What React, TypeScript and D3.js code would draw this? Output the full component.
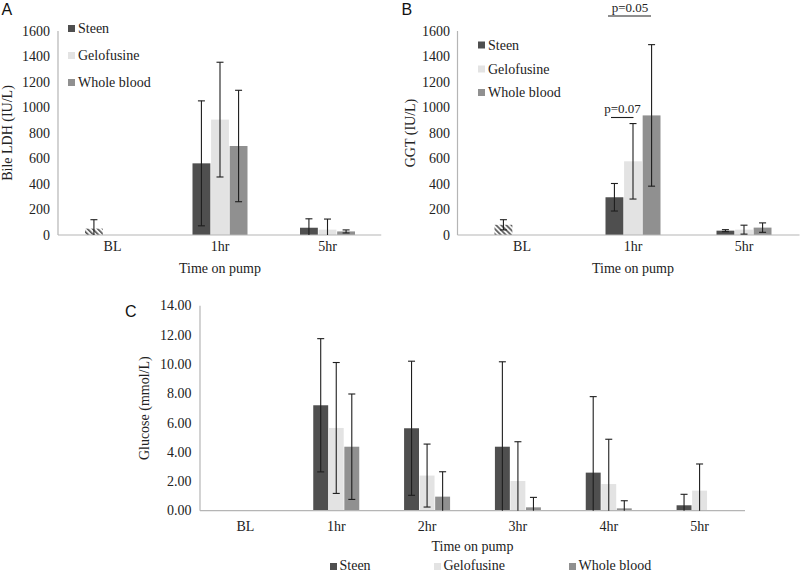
import React from "react";
import * as d3 from "d3";

// ---------- data ----------
const abCategories = ["BL", "1hr", "5hr"];
const cCategories = ["BL", "1hr", "2hr", "3hr", "4hr", "5hr"];
const seriesNames = ["Steen", "Gelofusine", "Whole blood"];

// Panel A: Bile LDH (IU/L)
const ldhBaseline = [50, null, null];
const ldhBaselineErr = [70, null, null];
const ldhSteen = [null, 562, 57];
const ldhSteenErr = [null, 490, 70];
const ldhGelo = [null, 905, 42];
const ldhGeloErr = [null, 450, 83];
const ldhWhole = [null, 698, 28];
const ldhWholeErr = [null, 437, 12];

// Panel B: GGT (IU/L)
const ggtBaseline = [80, null, null];
const ggtBaselineErr = [40, null, null];
const ggtSteen = [null, 296, 34];
const ggtSteenErr = [null, 108, 8];
const ggtGelo = [null, 578, 42];
const ggtGeloErr = [null, 296, 35];
const ggtWhole = [null, 938, 58];
const ggtWholeErr = [null, 555, 37];

// Panel C: Glucose (mmol/L)
const glucSteen = [0.03, 7.2, 5.63, 4.37, 2.6, 0.37];
const glucSteenErr = [0, 4.55, 4.58, 5.8, 5.19, 0.75];
const glucGelo = [0, 5.65, 2.4, 2.03, 1.82, 1.37];
const glucGeloErr = [0, 4.47, 2.15, 2.68, 3.06, 1.82];
const glucWhole = [0, 4.37, 0.96, 0.23, 0.16, 0.02];
const glucWholeErr = [0, 3.6, 1.7, 0.68, 0.52, 0];

const abTicks = [0, 200, 400, 600, 800, 1000, 1200, 1400, 1600];
const cTicks = [0, 2, 4, 6, 8, 10, 12, 14];

const colors = ["#4f4f4f", "#e3e3e3", "#909090"];
const SERIF = "'Liberation Serif', 'Times New Roman', serif";
const SANS = "'Liberation Sans', Arial, sans-serif";
const AXIS = "#b5b5b5";
const ERR = "#1e1e1e";

type Num = number | null;

interface PanelProps {
  categories: string[];
  xRange: [number, number];
  axisLeft: number;
  yRange: [number, number];
  yDomain: [number, number];
  ticks: number[];
  tickFmt: (v: number) => string;
  tickX: number;
  groupWidth: number;
  baseline?: Num[];
  baselineErr?: Num[];
  series: Num[][];
  errs: Num[][];
  catLabelY: number;
  xTitleY: number;
  yTitle: string;
  yTitleX: number;
}

function ErrorBar({ cx, v, e, y }: { cx: number; v: number; e: number; y: d3.ScaleLinear<number, number> }) {
  if (!e) return null;
  const top = y(v + e);
  const lowVal = v - e;
  const bottom = y(Math.max(lowVal, 0));
  const cap = 3.5;
  return (
    <g stroke={ERR} strokeWidth={1.1}>
      <line x1={cx} x2={cx} y1={top} y2={bottom} />
      <line x1={cx - cap} x2={cx + cap} y1={top} y2={top} />
      {lowVal >= 0 && <line x1={cx - cap} x2={cx + cap} y1={bottom} y2={bottom} />}
    </g>
  );
}

function BarPanel(p: PanelProps) {
  const x = d3.scaleBand<string>().domain(p.categories).range(p.xRange);
  const y = d3.scaleLinear().domain(p.yDomain).range(p.yRange);
  const inner = d3
    .scaleBand<string>()
    .domain(seriesNames)
    .range([-p.groupWidth / 2, p.groupWidth / 2])
    .paddingInner(0.04);
  const bw = inner.bandwidth();
  const y0 = y(0);
  const midX = (p.xRange[0] + p.xRange[1]) / 2;
  const midY = (p.yRange[0] + p.yRange[1]) / 2;
  return (
    <g>
      {p.ticks.map((t) => (
        <text
          key={t}
          x={p.tickX}
          y={y(t)}
          dy="0.34em"
          textAnchor="end"
          fontFamily={SERIF}
          fontSize={14}
          fill="#222"
        >
          {p.tickFmt(t)}
        </text>
      ))}
      {p.series.map((vals, si) =>
        vals.map((v, ci) => {
          if (v === null) return null;
          const bx = (x(p.categories[ci]) as number) + x.bandwidth() / 2 + (inner(seriesNames[si]) as number);
          return (
            <rect key={`b${si}-${ci}`} x={bx} y={y(v)} width={bw} height={y0 - y(v)} fill={colors[si]} />
          );
        })
      )}
      {p.baseline &&
        p.baseline.map((v, ci) => {
          if (v === null) return null;
          const bx = (x(p.categories[ci]) as number) + x.bandwidth() / 2 + (inner(seriesNames[0]) as number);
          return (
            <rect key={`bl${ci}`} x={bx} y={y(v)} width={bw} height={y0 - y(v)} fill="url(#hatch)" />
          );
        })}
      <line x1={p.axisLeft} x2={p.xRange[1]} y1={y0} y2={y0} stroke={AXIS} strokeWidth={1.2} />
      <line x1={p.axisLeft} x2={p.axisLeft} y1={p.yRange[1]} y2={y0} stroke={AXIS} strokeWidth={1.2} />
      {p.series.map((vals, si) =>
        vals.map((v, ci) => {
          const e = p.errs[si][ci];
          if (v === null || e === null) return null;
          const cx = (x(p.categories[ci]) as number) + x.bandwidth() / 2 + (inner(seriesNames[si]) as number) + bw / 2;
          return <ErrorBar key={`e${si}-${ci}`} cx={cx} v={v} e={e} y={y} />;
        })
      )}
      {p.baseline &&
        p.baseline.map((v, ci) => {
          const e = p.baselineErr ? p.baselineErr[ci] : null;
          if (v === null || e === null) return null;
          const cx = (x(p.categories[ci]) as number) + x.bandwidth() / 2 + (inner(seriesNames[0]) as number) + bw / 2;
          return <ErrorBar key={`ble${ci}`} cx={cx} v={v} e={e} y={y} />;
        })}
      {p.categories.map((c) => (
        <text
          key={c}
          x={(x(c) as number) + x.bandwidth() / 2}
          y={p.catLabelY}
          textAnchor="middle"
          fontFamily={SERIF}
          fontSize={14}
          fill="#222"
        >
          {c}
        </text>
      ))}
      <text x={midX} y={p.xTitleY} textAnchor="middle" fontFamily={SERIF} fontSize={14} fill="#222">
        Time on pump
      </text>
      <text
        transform={`translate(${p.yTitleX},${midY}) rotate(-90)`}
        textAnchor="middle"
        fontFamily={SERIF}
        fontSize={14}
        fill="#222"
      >
        {p.yTitle}
      </text>
    </g>
  );
}

function VLegend({ x, ys }: { x: number; ys: number[] }) {
  return (
    <g>
      {seriesNames.map((n, i) => (
        <g key={n}>
          <rect x={x} y={ys[i] - 8} width={7} height={7} fill={colors[i]} />
          <text x={x + 10} y={ys[i]} fontFamily={SERIF} fontSize={14} fill="#222">
            {n}
          </text>
        </g>
      ))}
    </g>
  );
}

export default function App() {
  const intFmt = (v: number) => d3.format("d")(v);
  const decFmt = (v: number) => d3.format(".2f")(v);
  return (
    <svg
      width={800}
      height={573}
      style={{ position: "absolute", left: 0, top: 0, background: "#fff" }}
      xmlns="http://www.w3.org/2000/svg"
    >
      <defs>
        <pattern id="hatch" width={3.6} height={3.6} patternUnits="userSpaceOnUse" patternTransform="rotate(-45)">
          <rect width={3.6} height={3.6} fill="#f4f4f4" />
          <rect width={1.6} height={3.6} fill="#555" />
        </pattern>
      </defs>
      <rect width={800} height={573} fill="#fff" />

      {/* Panel A */}
      <text x={1.5} y={15} fontFamily={SANS} fontSize={16} fill="#111">
        A
      </text>
      <BarPanel
        categories={abCategories}
        xRange={[58.75, 381.25]}
        axisLeft={58}
        yRange={[235, 31]}
        yDomain={[0, 1600]}
        ticks={abTicks}
        tickFmt={intFmt}
        tickX={50}
        groupWidth={55}
        baseline={ldhBaseline}
        baselineErr={ldhBaselineErr}
        series={[ldhSteen, ldhGelo, ldhWhole]}
        errs={[ldhSteenErr, ldhGeloErr, ldhWholeErr]}
        catLabelY={251}
        xTitleY={273}
        yTitle="Bile LDH (IU/L)"
        yTitleX={12}
      />
      <VLegend x={68} ys={[33, 60, 87]} />

      {/* Panel B */}
      <text x={401.5} y={15} fontFamily={SANS} fontSize={16} fill="#111">
        B
      </text>
      <BarPanel
        categories={abCategories}
        xRange={[466.5, 799.5]}
        axisLeft={457.5}
        yRange={[235, 31]}
        yDomain={[0, 1600]}
        ticks={abTicks}
        tickFmt={intFmt}
        tickX={450}
        groupWidth={55}
        baseline={ggtBaseline}
        baselineErr={ggtBaselineErr}
        series={[ggtSteen, ggtGelo, ggtWhole]}
        errs={[ggtSteenErr, ggtGeloErr, ggtWholeErr]}
        catLabelY={251}
        xTitleY={273}
        yTitle="GGT (IU/L)"
        yTitleX={415}
      />
      <VLegend x={478} ys={[49.5, 73.5, 97]} />
      <text x={630} y={11.5} textAnchor="middle" fontFamily={SERIF} fontSize={13} fill="#222">
        p=0.05
      </text>
      <line x1={608} x2={651} y1={16} y2={16} stroke={ERR} strokeWidth={1.1} />
      <text x={622.5} y={113} textAnchor="middle" fontFamily={SERIF} fontSize={13} fill="#222">
        p=0.07
      </text>
      <line x1={611} x2={633.5} y1={117.5} y2={117.5} stroke={ERR} strokeWidth={1.1} />

      {/* Panel C */}
      <text x={125} y={316.5} fontFamily={SANS} fontSize={16} fill="#111">
        C
      </text>
      <BarPanel
        categories={cCategories}
        xRange={[200, 745]}
        axisLeft={200}
        yRange={[510.7, 305.7]}
        yDomain={[0, 14]}
        ticks={cTicks}
        tickFmt={decFmt}
        tickX={191.5}
        groupWidth={46}
        series={[glucSteen, glucGelo, glucWhole]}
        errs={[glucSteenErr, glucGeloErr, glucWholeErr]}
        catLabelY={531}
        xTitleY={551}
        yTitle="Glucose (mmol/L)"
        yTitleX={149}
      />
      {seriesNames.map((n, i) => {
        const lx = [330, 434, 569][i];
        return (
          <g key={n}>
            <rect x={lx} y={563} width={7} height={7} fill={colors[i]} />
            <text x={lx + 9.5} y={569.5} fontFamily={SERIF} fontSize={14} fill="#222">
              {n}
            </text>
          </g>
        );
      })}
    </svg>
  );
}
